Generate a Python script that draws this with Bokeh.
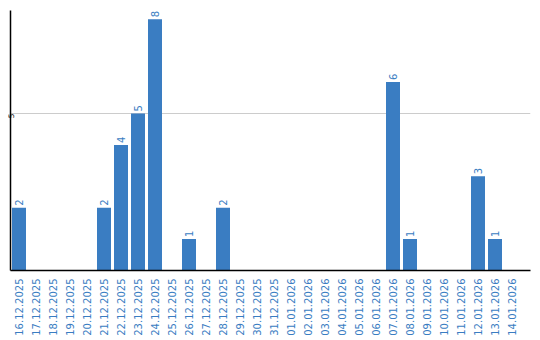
import math
from bokeh.plotting import figure
from bokeh.models import Range1d, FixedTicker, ColumnDataSource
from bokeh.core.properties import value
from bokeh.embed import file_html
from bokeh.resources import INLINE

dates = ["16.12.2025", "17.12.2025", "18.12.2025", "19.12.2025", "20.12.2025",
         "21.12.2025", "22.12.2025", "23.12.2025", "24.12.2025", "25.12.2025",
         "26.12.2025", "27.12.2025", "28.12.2025", "29.12.2025", "30.12.2025",
         "31.12.2025", "01.01.2026", "02.01.2026", "03.01.2026", "04.01.2026",
         "05.01.2026", "06.01.2026", "07.01.2026", "08.01.2026", "09.01.2026",
         "10.01.2026", "11.01.2026", "12.01.2026", "13.01.2026", "14.01.2026"]
counts = [2, 0, 0, 0, 0, 2, 4, 5, 8, 0, 1, 0, 2, 0, 0, 0, 0, 0, 0, 0, 0, 0,
          6, 1, 0, 0, 0, 3, 1, 0]
y_ticks = [5]

BLUE = "#3a7dc2"
FONT = "DejaVu Sans"

xs = [i + 0.5 for i in range(len(dates))]
src = ColumnDataSource(dict(x=xs, top=counts))
lab_x = [x for x, c in zip(xs, counts) if c > 0]
lab_y = [c for c in counts if c > 0]
lab_t = [str(c) for c in counts if c > 0]
lsrc = ColumnDataSource(dict(x=lab_x, y=lab_y, t=lab_t))

p = figure(output_backend="svg", toolbar_location=None,
           frame_width=520, frame_height=260,
           x_range=Range1d(0, 520 / 17), y_range=Range1d(0, 260 / 31.4),
           min_border_left=10, min_border_right=10, min_border_top=10,
           min_border_bottom=70, outline_line_color=None)

p.vbar(x="x", top="top", width=14 / 17, source=src, fill_color=BLUE,
       line_color=None)
p.text(x="x", y="y", text="t", source=lsrc, angle=math.pi / 2,
       text_align="left", text_baseline="middle", x_offset=0, y_offset=-2,
       text_color=BLUE, text_font=value(FONT), text_font_size="10px")

p.xgrid.visible = False
p.ygrid.ticker = FixedTicker(ticks=y_ticks)
p.ygrid.grid_line_color = "#cccccc"

xa = p.xaxis[0]
xa.ticker = FixedTicker(ticks=xs)
xa.major_label_overrides = {x: d for x, d in zip(xs, dates)}
xa.major_label_orientation = math.pi / 2
xa.major_label_text_color = BLUE
xa.major_label_text_font = FONT
xa.major_label_text_font_size = "10px"
xa.major_label_standoff = 8
xa.major_tick_out = 0
xa.major_tick_in = 0
xa.minor_tick_out = 0
xa.minor_tick_in = 0
xa.major_tick_line_color = None
xa.minor_tick_line_color = None
xa.axis_line_color = "black"
xa.axis_line_width = 1.5

ya = p.yaxis[0]
ya.ticker = FixedTicker(ticks=y_ticks)
ya.major_label_orientation = math.pi / 2
ya.major_label_text_font = FONT
ya.major_label_text_font_size = "7.5px"
ya.major_label_text_color = "black"
ya.major_label_standoff = 0
ya.major_tick_out = 0
ya.major_tick_in = 0
ya.minor_tick_out = 0
ya.minor_tick_in = 0
ya.major_tick_line_color = None
ya.minor_tick_line_color = None
ya.axis_line_color = "black"
ya.axis_line_width = 1.5

open("out.html", "w").write(file_html(p, INLINE))
